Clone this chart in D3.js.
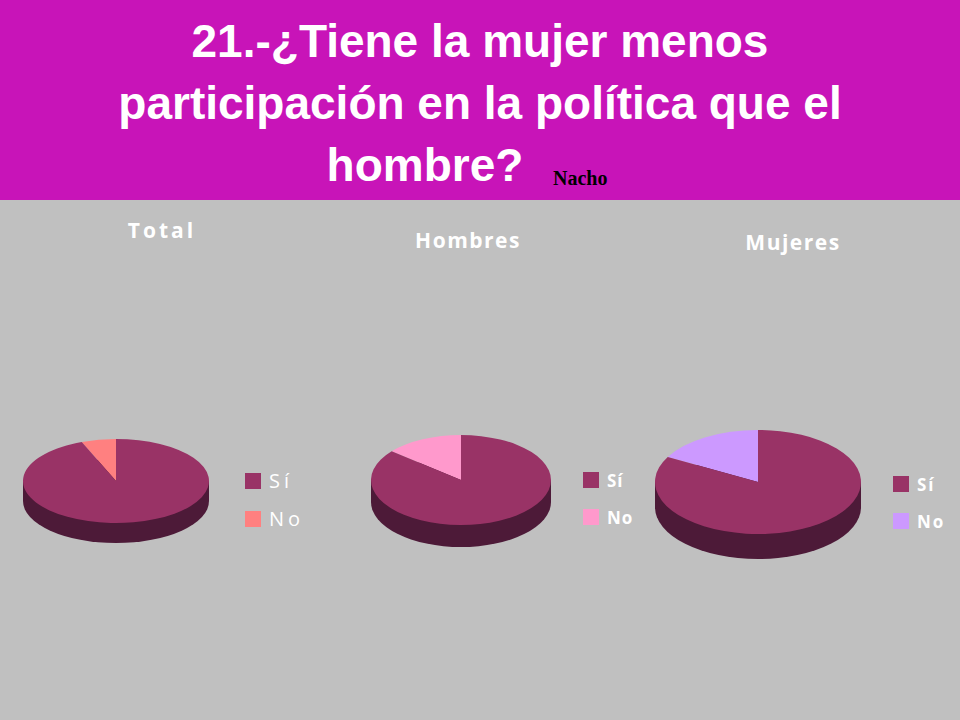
<!DOCTYPE html>
<html><head><meta charset="utf-8">
<script src="https://cdn.jsdelivr.net/npm/d3@7"></script>
<style>body{margin:0}svg{display:block}</style>
</head><body>
<svg id="chart" width="960" height="720"></svg>
<script>
var groups = ['Total', 'Hombres', 'Mujeres'];
var answers = ['Sí', 'No'];
var siValues = [94, 86, 83];
var noValues = [6, 14, 17];
var noColors = ['#ff8080', '#ff99cc', '#cc99ff'];

var svg = d3.select('#chart');
svg.append('rect').attr('width', 960).attr('height', 720).attr('fill', '#c0c0c0');
svg.append('rect').attr('width', 960).attr('height', 200).attr('fill', '#c814b8');

var titleLines = ['21.-¿Tiene la mujer menos', 'participación en la política que el', 'hombre?'];
titleLines.forEach(function(t, i) {
  svg.append('text').attr('x', 480).attr('y', 57 + i * 62)
    .attr('text-anchor', 'middle').attr('fill', 'white')
    .attr('font-family', 'Liberation Sans, Arial').attr('font-weight', 'bold')
    .attr('font-size', 46).text(t)
    .attr('dx', i == 2 ? -55 : 0);
});
svg.append('text').attr('x', 553).attr('y', 185).attr('fill', 'black')
  .attr('font-family', 'Liberation Serif, serif').attr('font-weight', 'bold')
  .attr('font-size', 20).text('Nacho');

var layout = [
  {cx: 116, cy: 481, rx: 93, ry: 42, d: 20, tx: 162, ty: 238, lx: 245, ly: [481, 519], ls: 4},
  {cx: 461, cy: 480, rx: 90, ry: 45, d: 22, tx: 468, ty: 248, lx: 583, ly: [480, 517], ls: 1},
  {cx: 758, cy: 482, rx: 103, ry: 52, d: 25, tx: 793, ty: 250, lx: 893, ly: [484, 521], ls: 2}
];

groups.forEach(function(g, i) {
  var L = layout[i];
  var vals = [noValues[i], siValues[i]];
  var total = vals[0] + vals[1];
  var start = -vals[0] / total * 2 * Math.PI;
  var pie = d3.pie().sort(null).startAngle(start).endAngle(start + 2 * Math.PI);
  var arc = d3.arc().innerRadius(0).outerRadius(L.rx);
  var k = L.ry / L.rx;

  // side (depth)
  svg.append('ellipse').attr('cx', L.cx).attr('cy', L.cy + L.d)
    .attr('rx', L.rx).attr('ry', L.ry).attr('fill', '#4d1a38');
  svg.append('rect').attr('x', L.cx - L.rx).attr('y', L.cy)
    .attr('width', 2 * L.rx).attr('height', L.d).attr('fill', '#4d1a38');

  var gp = svg.append('g')
    .attr('transform', 'translate(' + L.cx + ',' + L.cy + ') scale(1,' + k + ')');
  var colors = [noColors[i], '#993366'];
  gp.selectAll('path').data(pie(vals)).enter().append('path')
    .attr('d', arc).attr('fill', function(d, j) { return colors[j]; });

  svg.append('text').attr('x', L.tx).attr('y', L.ty).attr('text-anchor', 'middle')
    .attr('font-family', 'Open Sans, DejaVu Sans').attr('font-weight', 'bold')
    .attr('font-size', 21).attr('fill', 'white').attr('letter-spacing', i == 0 ? 3 : 1.5).text(g);

  var legColors = ['#993366', noColors[i]];
  answers.forEach(function(a, j) {
    svg.append('rect').attr('x', L.lx).attr('y', L.ly[j] - 8).attr('width', 16).attr('height', 16)
      .attr('fill', legColors[j]);
    svg.append('text').attr('x', L.lx + 24).attr('y', L.ly[j] + 7)
      .attr('font-family', 'Open Sans, DejaVu Sans').attr('font-weight', i == 0 ? 'normal' : 'bold')
      .attr('font-size', i == 0 ? 20 : 17).attr('fill', 'white').attr('letter-spacing', L.ls)
      .text(a);
  });
});
</script>
</body></html>
